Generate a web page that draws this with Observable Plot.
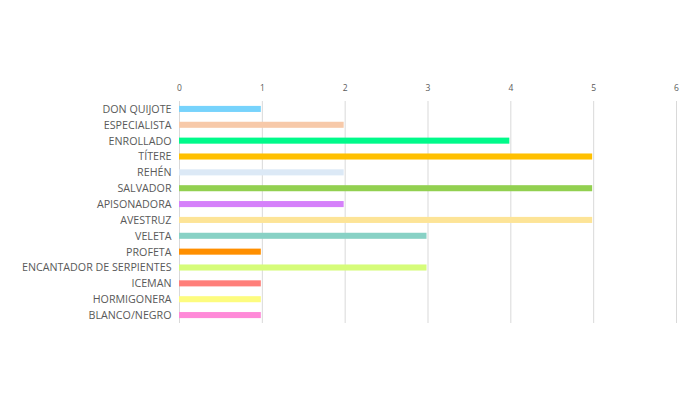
<!DOCTYPE html>
<html>
<head>
<meta charset="utf-8">
<script src="https://cdn.jsdelivr.net/npm/d3@7"></script>
<script src="https://cdn.jsdelivr.net/npm/@observablehq/plot@0.6"></script>
<style>
  html, body { margin: 0; padding: 0; background: #fff; }
  #chart { width: 700px; height: 400px; }
</style>
</head>
<body>
<div id="chart"></div>
<script>
const categories = ["DON QUIJOTE", "ESPECIALISTA", "ENROLLADO", "TÍTERE", "REHÉN", "SALVADOR", "APISONADORA", "AVESTRUZ", "VELETA", "PROFETA", "ENCANTADOR DE SERPIENTES", "ICEMAN", "HORMIGONERA", "BLANCO/NEGRO"];
const values = [1, 2, 4, 5, 2, 5, 2, 5, 3, 1, 3, 1, 1, 1];
const colors = ["#77d3fc", "#f7c9a9", "#00fa8a", "#ffc000", "#dce9f6", "#92d050", "#d580fa", "#fde497", "#88d1c5", "#ff8f00", "#d6fc7a", "#ff7f7a", "#fdfc7f", "#ff8ad8"];
const xTicks = [0, 1, 2, 3, 4, 5, 6];

const data = categories.map((c, i) => ({category: c, value: values[i], color: colors[i]}));

const chart = Plot.plot({
  width: 700,
  height: 400,
  marginTop: 101,
  marginBottom: 77,
  marginLeft: 179,
  marginRight: 24,
  style: {fontFamily: "'Open Sans', sans-serif", background: "#fff"},
  x: {domain: [0, 6], ticks: xTicks, axis: null},
  y: {domain: categories, padding: 0, round: false, axis: null},
  marks: [
    Plot.gridX(xTicks, {stroke: "#d9d9d9", strokeOpacity: 1, strokeWidth: 1}),
    Plot.axisX(xTicks, {anchor: "top", tickSize: 0, tickPadding: 11, fontSize: 8.5, fill: "#595959", label: null}),
    Plot.axisY({anchor: "left", tickSize: 0, tickPadding: 8, fontSize: 10.7, fill: "#595959", label: null}),
    Plot.barX(data, {y: "category", x: "value", fill: "color", insetRight: 1, insetTop: 4.9, insetBottom: 4.9})
  ]
});
document.getElementById("chart").appendChild(chart);
</script>
</body>
</html>
